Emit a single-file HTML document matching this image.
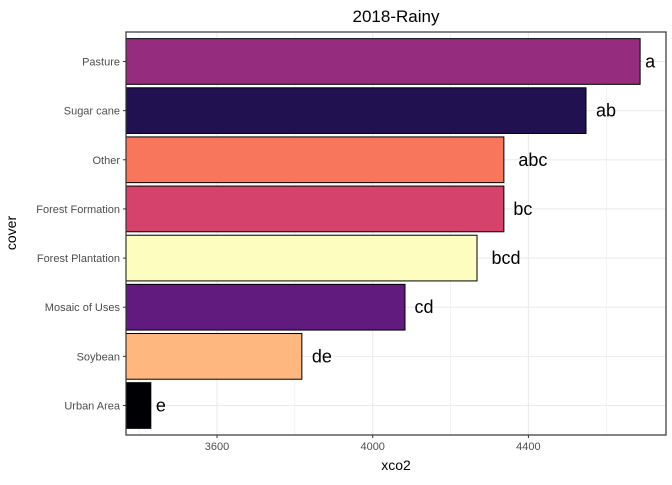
<!DOCTYPE html>
<html><head><meta charset="utf-8"><style>
body{margin:0;background:#fff;font-family:"Liberation Sans",Arial,sans-serif}
</style></head><body>
<svg id="chart" width="672" height="480" xmlns="http://www.w3.org/2000/svg">
<rect width="672" height="480" fill="#fff"/>
<text x="396" y="22" font-size="17" text-anchor="middle" fill="#000">2018-Rainy</text>
<g id="grid"></g><g id="bars"></g><g id="axes"></g>
<text x="396" y="470" font-size="14" text-anchor="middle" fill="#000">xco2</text>
<text transform="translate(16,233) rotate(-90)" font-size="14" text-anchor="middle" fill="#000">cover</text>
</svg>
<script>
const categories=["Urban Area","Soybean","Mosaic of Uses","Forest Plantation","Forest Formation","Other","Sugar cane","Pasture"];
const values=[3430,3818,4083,4268,4337,4337,4548,4687];
const letters=["e","de","cd","bcd","bc","abc","ab","a"];
const colors=["#000004","#FEB77E","#611A7E","#FCFDBF","#D5426C","#F8765C","#221150","#962C7E"];
const xTicks=[3600,4000,4400];
const xMinor=[3400,3800,4200,4600];
const L=126,R=666,T=32,B=435;
const x=v=>217+(v-3600)*0.38925;
const step=(B-T)/8.2;
const y=i=>B-(0.6+i)*step;
const NS="http://www.w3.org/2000/svg";
function mk(tag,at,parent){const e=document.createElementNS(NS,tag);for(const k in at)e.setAttribute(k,at[k]);parent.appendChild(e);return e;}
const grid=document.getElementById('grid'),bars=document.getElementById('bars'),axes=document.getElementById('axes');
xMinor.forEach(v=>{const l=mk('line',{x1:x(v),x2:x(v),y1:T,y2:B,stroke:'#ebebeb','stroke-width':0.6},grid);

});
xTicks.forEach(v=>{const l=mk('line',{x1:x(v),x2:x(v),y1:T,y2:B,stroke:'#ebebeb','stroke-width':1.1},grid);

});
categories.forEach((c,i)=>{const l=mk('line',{x1:L,x2:R,y1:y(i),y2:y(i),stroke:'#ebebeb','stroke-width':1.1},grid);

});
const bh=step*0.93;
categories.forEach((c,i)=>{
 const r=mk('rect',{x:L,y:y(i)-bh/2,width:x(values[i])-L,height:bh,fill:colors[i],stroke:'#000','stroke-width':1},bars);
 
 
 const t=mk('text',{x:0,y:y(i)+6,'font-size':18,fill:'#000'},bars);t.textContent=letters[i];
 
 
 const w=t.getComputedTextLength();t.setAttribute('x',x(values[i])+w*0.5);
 const lb=mk('text',{x:L-6,y:y(i)+4,'font-size':11,'text-anchor':'end',fill:'#4d4d4d'},axes);lb.textContent=c;
 
 
 mk('line',{x1:L-3,x2:L,y1:y(i),y2:y(i),stroke:'#333'},axes);
});
xTicks.forEach(v=>{
 mk('line',{x1:x(v),x2:x(v),y1:B,y2:B+3,stroke:'#333'},axes);
 const t=mk('text',{x:x(v),y:B+15,'font-size':11,'text-anchor':'middle',fill:'#4d4d4d'},axes);t.textContent=v;
 
 
});
const f=mk('rect',{x:L,y:T,width:R-L,height:B-T,fill:'none',stroke:'#333','stroke-width':1.2},axes);


</script>
</body></html>
